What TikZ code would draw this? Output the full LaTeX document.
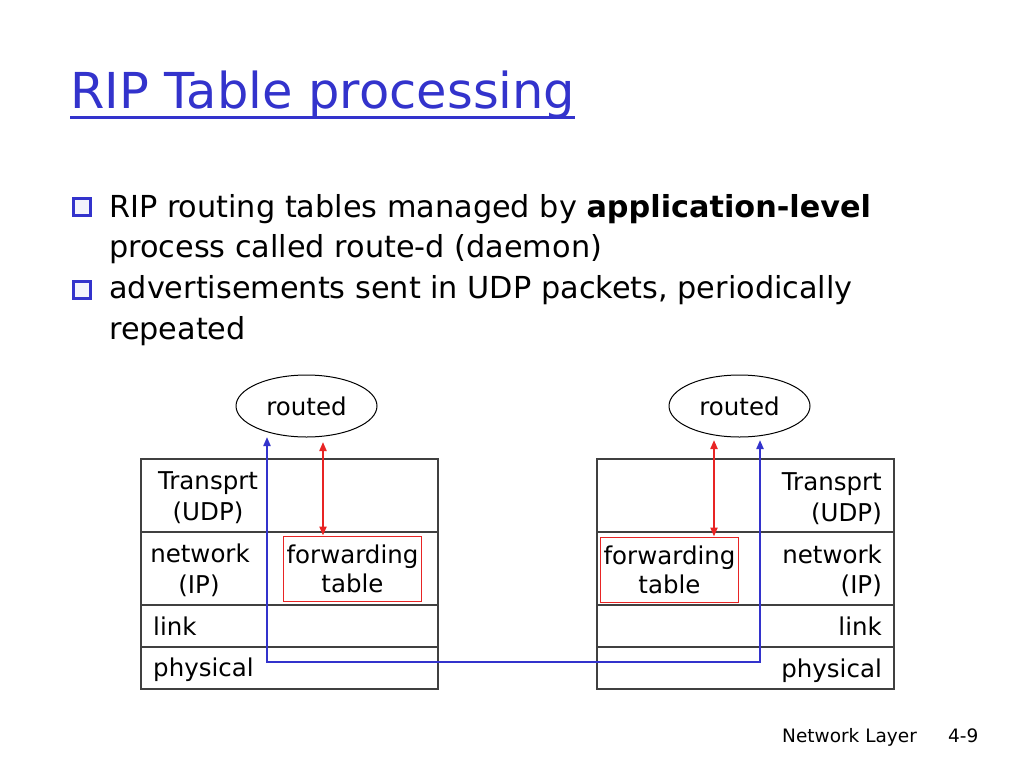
\documentclass[tikz,border=0pt]{standalone}
\usepackage{fontspec}
\setmainfont{DejaVu Sans}
\usetikzlibrary{arrows.meta,positioning,shapes.geometric}
\definecolor{slideblue}{RGB}{51,51,204}
\definecolor{tablered}{RGB}{232,36,36}
\tikzset{
  layer/.style={rectangle,draw=black!75,line width=1.3pt,minimum width=297pt,inner sep=0pt,outer sep=0pt,anchor=north west},
  daemon/.style={ellipse,draw=black,line width=1pt,minimum width=141pt,minimum height=62pt,inner sep=0pt,font=\fontsize{24.5}{29}\selectfont},
  lbl/.style={inner sep=0pt,font=\fontsize{24.5}{29}\selectfont},
  fwdtable/.style={rectangle,draw=tablered,line width=1pt,minimum width=138pt,minimum height=65pt,inner sep=0pt,align=center,font=\fontsize{24.5}{29}\selectfont},
  bulletline/.style={anchor=base west,inner sep=0pt,font=\fontsize{30.3}{40}\selectfont},
  bulletbox/.style={rectangle,draw=slideblue,line width=2.6pt,fill=slideblue!6,minimum size=17pt,inner sep=0pt},
  tabarrow/.style={tablered,line width=2pt,{Triangle[length=9pt,width=7pt]}-{Triangle[length=9pt,width=7pt]}},
  ripline/.style={slideblue,line width=2pt,{Triangle[length=9pt,width=7pt]}-{Triangle[length=9pt,width=7pt]}}
}
\begin{document}
\begin{tikzpicture}[x=1pt,y=-1pt]
\useasboundingbox[fill=white] (0,0) rectangle (1024,768);
% title
\node (title) [anchor=base west,inner sep=0pt,text=slideblue,font=\fontsize{49.5}{56}\selectfont] at (70,108) {RIP Table processing};
\draw[slideblue,line width=3pt] ([yshift=1pt]title.south west) -- ([yshift=1pt]title.south east);
% bullets
\node (b1) [bulletbox] at (82,207) {};
\node (l1) [bulletline] at (109,217) {RIP routing tables managed by \textbf{application-level}};
\node (l2) [bulletline] at (109,257) {process called route-d (daemon)};
\node (b2) [bulletbox] at (82,290) {};
\node (l3) [bulletline] at (109,298) {advertisements sent in UDP packets, periodically};
\node (l4) [bulletline] at (109,339) {repeated};
%
% left host
\node (lrouted) [daemon] at (306.5,406) {routed};
\node (ltr) [layer,minimum height=73pt] at (141,459) {};
\node (lnw) [layer,minimum height=73pt] at (ltr.south west) {};
\node (llk) [layer,minimum height=42pt] at (lnw.south west) {};
\node (lph) [layer,minimum height=42pt] at (llk.south west) {};
\node (ltrA) [lbl,anchor=base] at (208,489) {Transprt};
\node (ltrB) [lbl,anchor=base] at (208,520) {(UDP)};
\node (lnwA) [lbl,anchor=base] at (200,562) {network};
\node (lnwB) [lbl,anchor=base] at (199,593) {(IP)};
\node (llkA) [lbl,anchor=base west] at (153,635) {link};
\node (lphA) [lbl,anchor=base west] at (153,676) {physical};
\node (lfwd) [fwdtable] at (352.5,568.5) {forwarding\\table};
%
% right host
\node (rrouted) [daemon] at (739.5,406) {routed};
\node (rtr) [layer,minimum height=73pt] at (597,459) {};
\node (rnw) [layer,minimum height=73pt] at (rtr.south west) {};
\node (rlk) [layer,minimum height=42pt] at (rnw.south west) {};
\node (rph) [layer,minimum height=42pt] at (rlk.south west) {};
\node (rtrA) [lbl,anchor=base east] at (882,490) {Transprt};
\node (rtrB) [lbl,anchor=base east] at (882,521) {(UDP)};
\node (rnwA) [lbl,anchor=base east] at (882,563) {network};
\node (rnwB) [lbl,anchor=base east] at (882,593) {(IP)};
\node (rlkA) [lbl,anchor=base east] at (882,635) {link};
\node (rphA) [lbl,anchor=base east] at (882,677) {physical};
\node (rfwd) [fwdtable] at (669.5,569.5) {forwarding\\table};
%
% routed <-> forwarding table
\coordinate (ltop) at (323,442);
\coordinate (rtop) at (714,440);
\draw[tabarrow] (ltop) -- (lfwd.north -| ltop);
\draw[tabarrow] (rtop) -- (rfwd.north -| rtop);
% advertisements over the physical link
\coordinate (lup) at (267,437);
\coordinate (rup) at (760,440);
\coordinate (lbend) at (267,662);
\coordinate (rbend) at (760,662);
\draw[ripline] (lup) -- (lbend) -- (rbend) -- (rup);
%
% footer
\node (foot) [anchor=base west,inner sep=0pt,font=\fontsize{18.5}{22}\selectfont] at (782,742) {Network Layer};
\node (page) [anchor=base west,inner sep=0pt,font=\fontsize{18.5}{22}\selectfont] at (948,742) {4-9};
\end{tikzpicture}
\end{document}
